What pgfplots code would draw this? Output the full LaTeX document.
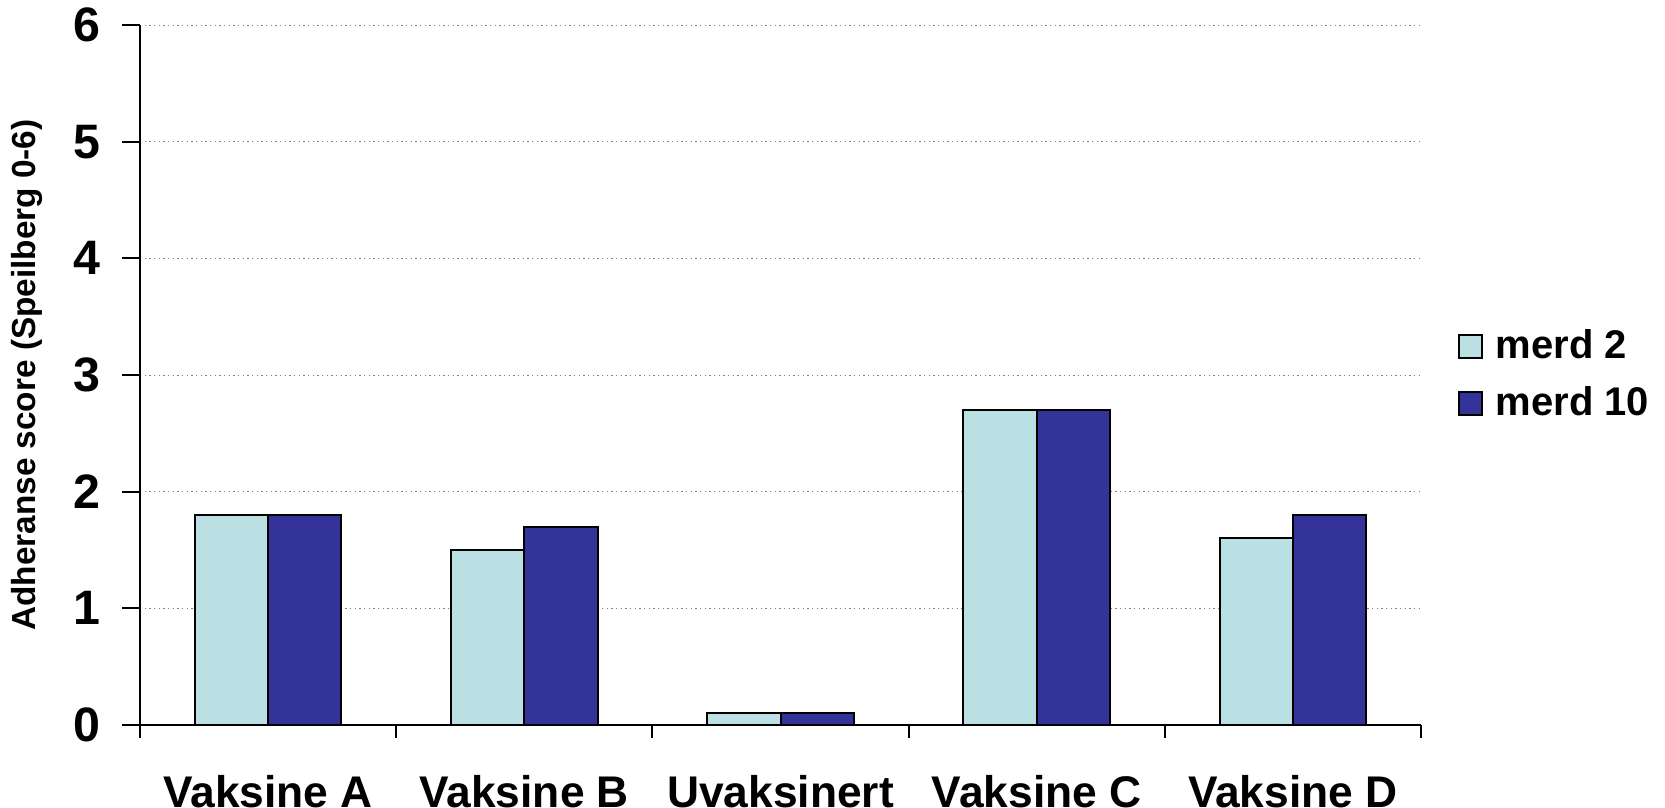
\documentclass[border=0pt]{standalone}
\usepackage{fontspec}
\setmainfont{Liberation Sans}
\usepackage{pgfplots}
\pgfplotsset{compat=1.18}
\definecolor{lightbar}{HTML}{BBE0E3}
\definecolor{darkbar}{HTML}{333399}
\begin{document}
\begin{tikzpicture}
\begin{axis}[
  at={(0,0)}, anchor=south west,
  scale only axis, width=384.3pt, height=210pt,
  ybar=0pt, bar width=22pt,
  xmin=-0.5, xmax=4.5, ymin=0, ymax=6,
  axis lines*=left,
  axis line style={line width=0.6pt, black},
  xtick={0,...,4},
  xticklabels={Vaksine A, Vaksine B, Uvaksinert, Vaksine C, Vaksine D},
  minor xtick={-0.5,0.5,...,4.5},
  major x tick style={draw=none},
  minor x tick style={line width=0.6pt, black},
  ytick={0,...,6},
  y tick style={line width=0.6pt, black},
  tick align=outside,
  major tick length=5.4pt, minor tick length=3.9pt,
  ymajorgrids, grid style={densely dotted, gray, line width=0.3pt},
  /pgf/number format/assume math mode=true,
  yticklabel style={font=\bfseries\fontsize{14.5}{16}\selectfont, xshift=-3pt},
  xticklabel style={font=\bfseries\fontsize{13.3}{15}\selectfont, inner sep=0pt, yshift=-9.4pt, text depth=0pt},
  ylabel={Adheranse score (Speilberg 0-6)},
  every axis y label/.style={at={(axis description cs:0,0.5)}, xshift=-34pt, rotate=90, anchor=center, font=\bfseries\fontsize{10}{12}\selectfont},
  legend style={at={(1,0.5)}, anchor=west, xshift=10.8pt, draw=none, inner sep=0pt,
    font=\bfseries\fontsize{12}{13}\selectfont, row sep=7pt,
    nodes={inner sep=0pt}, column sep=3.9pt},
  legend cell align=left,
  legend image code/.code={\draw[#1] (0pt,-3.45pt) rectangle (6.9pt,3.45pt);},
]
\addplot[fill=lightbar, draw=black, line width=0.6pt] coordinates {(0,1.8) (1,1.5) (2,0.1) (3,2.7) (4,1.6)};
\addplot[fill=darkbar, draw=black, line width=0.6pt] coordinates {(0,1.8) (1,1.7) (2,0.1) (3,2.7) (4,1.8)};
\legend{merd 2, merd 10}
\end{axis}
\pgfresetboundingbox
\useasboundingbox (-42pt,-24.6pt) rectangle (457.5pt,217.5pt);
\end{tikzpicture}
\end{document}
